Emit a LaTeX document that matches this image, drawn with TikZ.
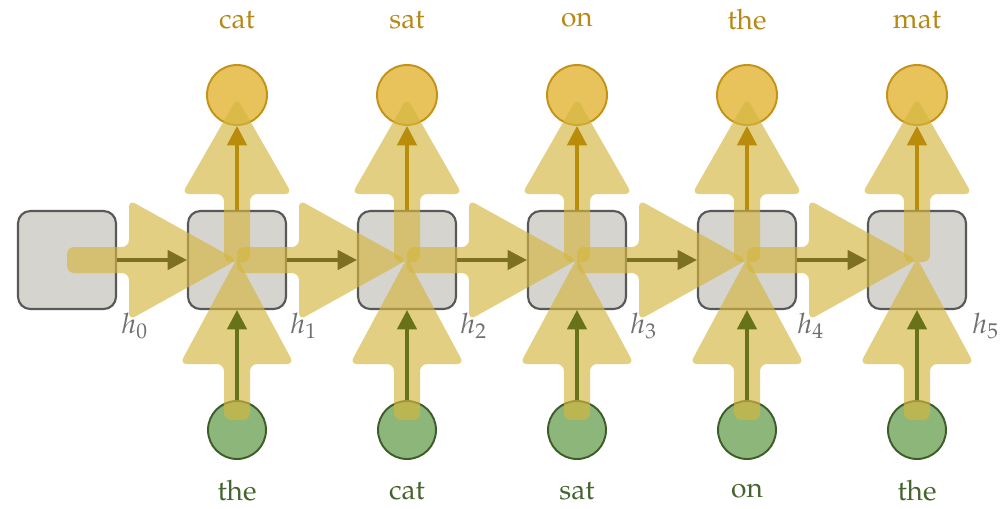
\documentclass[tikz,border=0pt]{standalone}
\usepackage[T1]{fontenc}
\usepackage{xcolor}
\usepackage{mathpazo}
\usepackage{tikz}
\usetikzlibrary{arrows.meta}
\definecolor{boxgray}{RGB}{214,212,206}
\definecolor{boxline}{RGB}{88,88,88}
\definecolor{outfill}{RGB}{232,195,92}
\definecolor{outedge}{RGB}{196,146,22}
\definecolor{infill}{RGB}{141,182,122}
\definecolor{inedge}{RGB}{62,92,42}
\definecolor{brushyellow}{RGB}{212,182,62}
\definecolor{harrcol}{RGB}{125,112,35}
\definecolor{inarrcol}{RGB}{104,114,24}
\definecolor{outarrcol}{RGB}{186,140,12}
\definecolor{outtext}{RGB}{182,136,22}
\definecolor{intext}{RGB}{70,100,45}
\definecolor{hgray}{RGB}{112,112,112}
\tikzset{
  box/.style={draw=boxline, fill=boxgray, line width=1.2pt, rounded corners=7pt,
    minimum size=1.96cm, inner sep=0pt},
  outnode/.style={circle, draw=outedge, fill=outfill, line width=1.1pt, minimum size=1.2cm, inner sep=0pt},
  innode/.style={circle, draw=inedge, fill=infill, line width=1.1pt, minimum size=1.16cm, inner sep=0pt},
  brush/.style={fill=brushyellow, fill opacity=0.65, rounded corners=4pt},
  harr/.style={-{Triangle[length=11pt,width=11pt]}, line width=2pt, harrcol},
  inarr/.style={-{Triangle[length=11pt,width=11pt]}, line width=2pt, inarrcol},
  outarr/.style={-{Triangle[length=11pt,width=11pt]}, line width=2pt, outarrcol},
  word/.style={font=\fontsize{16}{19}\selectfont, inner sep=0pt},
  hlabel/.style={hgray, anchor=west, font=\fontsize{16}{19}\selectfont, inner sep=0pt}
}

\begin{document}
\begin{tikzpicture}[x=0.02cm, y=-0.02cm]
      \useasboundingbox (0,0) rectangle (1008,508);
      % cells
      \node[box] (b0) at (67,260) {};
      \node[box] (b1) at (237,260) {};
      \node[box] (b2) at (407,260) {};
      \node[box] (b3) at (577,260) {};
      \node[box] (b4) at (747,260) {};
      \node[box] (b5) at (917,260) {};
      % inputs and outputs
      \node[innode] (x1) at (237,430) {};
      \node[innode] (x2) at (407,430) {};
      \node[innode] (x3) at (577,430) {};
      \node[innode] (x4) at (747,430) {};
      \node[innode] (x5) at (917,430) {};
      \node[outnode] (y1) at (237,95) {};
      \node[outnode] (y2) at (407,95) {};
      \node[outnode] (y3) at (577,95) {};
      \node[outnode] (y4) at (747,95) {};
      \node[outnode] (y5) at (917,95) {};
      % brush strokes
      \fill[brush] (67,247) -- (129,247) -- (129,200) -- (237,260) -- (129,320) -- (129,273) -- (67,273) -- cycle;
      \fill[brush] (237,247) -- (299,247) -- (299,200) -- (407,260) -- (299,320) -- (299,273) -- (237,273) -- cycle;
      \fill[brush] (407,247) -- (469,247) -- (469,200) -- (577,260) -- (469,320) -- (469,273) -- (407,273) -- cycle;
      \fill[brush] (577,247) -- (639,247) -- (639,200) -- (747,260) -- (639,320) -- (639,273) -- (577,273) -- cycle;
      \fill[brush] (747,247) -- (809,247) -- (809,200) -- (917,260) -- (809,320) -- (809,273) -- (747,273) -- cycle;
      \fill[brush] (224,420) -- (224,364) -- (180,364) -- (237,258) -- (294,364) -- (250,364) -- (250,420) -- cycle;
      \fill[brush] (394,420) -- (394,364) -- (350,364) -- (407,258) -- (464,364) -- (420,364) -- (420,420) -- cycle;
      \fill[brush] (564,420) -- (564,364) -- (520,364) -- (577,258) -- (634,364) -- (590,364) -- (590,420) -- cycle;
      \fill[brush] (734,420) -- (734,364) -- (690,364) -- (747,258) -- (804,364) -- (760,364) -- (760,420) -- cycle;
      \fill[brush] (904,420) -- (904,364) -- (860,364) -- (917,258) -- (974,364) -- (930,364) -- (930,420) -- cycle;
      \fill[brush] (224,262) -- (224,194) -- (182,194) -- (237,98) -- (292,194) -- (250,194) -- (250,262) -- cycle;
      \fill[brush] (394,262) -- (394,194) -- (352,194) -- (407,98) -- (462,194) -- (420,194) -- (420,262) -- cycle;
      \fill[brush] (564,262) -- (564,194) -- (522,194) -- (577,98) -- (632,194) -- (590,194) -- (590,262) -- cycle;
      \fill[brush] (734,262) -- (734,194) -- (692,194) -- (747,98) -- (802,194) -- (760,194) -- (760,262) -- cycle;
      \fill[brush] (904,262) -- (904,194) -- (862,194) -- (917,98) -- (972,194) -- (930,194) -- (930,262) -- cycle;
      % arrows
      \draw[harr] (b0) -- (b1);
      \draw[harr] (b1) -- (b2);
      \draw[harr] (b2) -- (b3);
      \draw[harr] (b3) -- (b4);
      \draw[harr] (b4) -- (b5);
      \draw[inarr] (x1) -- (b1);
      \draw[inarr] (x2) -- (b2);
      \draw[inarr] (x3) -- (b3);
      \draw[inarr] (x4) -- (b4);
      \draw[inarr] (x5) -- (b5);
      \draw[outarr] (b1) -- (y1);
      \draw[outarr] (b2) -- (y2);
      \draw[outarr] (b3) -- (y3);
      \draw[outarr] (b4) -- (y4);
      \draw[outarr] (b5) -- (y5);
      % labels
      \node[word, outtext] (w1) at (237,20) {cat};
      \node[word, outtext] (w2) at (407,20) {sat};
      \node[word, outtext] (w3) at (577,20) {on};
      \node[word, outtext] (w4) at (747,20) {the};
      \node[word, outtext] (w5) at (917,20) {mat};
      \node[word, intext] (v1) at (237,491) {the};
      \node[word, intext] (v2) at (407,491) {cat};
      \node[word, intext] (v3) at (577,491) {sat};
      \node[word, intext] (v4) at (747,491) {on};
      \node[word, intext] (v5) at (917,491) {the};
      \node[hlabel] (h0) at (121,326) {$h_0$};
      \node[hlabel] (h1) at (290,326) {$h_1$};
      \node[hlabel] (h2) at (460,326) {$h_2$};
      \node[hlabel] (h3) at (630,326) {$h_3$};
      \node[hlabel] (h4) at (797,326) {$h_4$};
      \node[hlabel] (h5) at (972,326) {$h_5$};
    \end{tikzpicture}
\end{document}
